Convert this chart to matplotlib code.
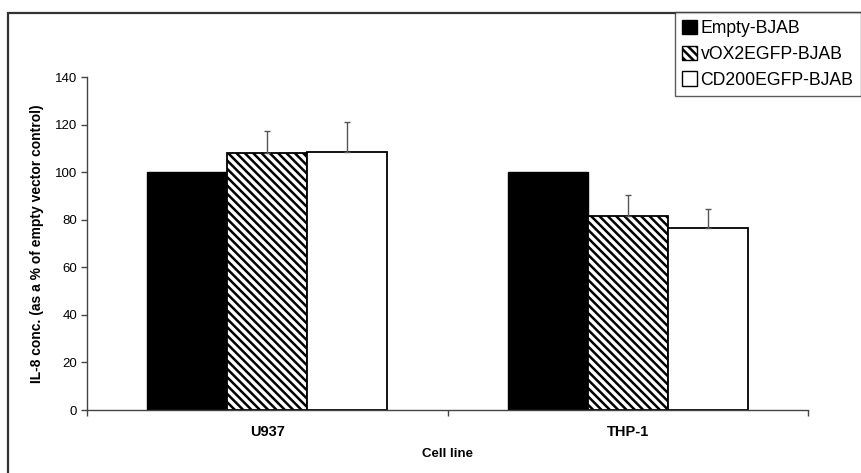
import matplotlib
matplotlib.use("Agg")
import matplotlib.pyplot as plt
from matplotlib.patches import Rectangle, Patch
import numpy as np

plt.rcParams['font.family'] = ['Liberation Sans', 'DejaVu Sans']
plt.rcParams['hatch.linewidth'] = 1.8

categories = ["U937", "THP-1"]
series_names = ["Empty-BJAB", "vOX2EGFP-BJAB", "CD200EGFP-BJAB"]
empty_vals = [100, 100]
vox2_vals = [108, 81.5]
cd200_vals = [108.5, 76.5]
vox2_err = [9.5, 9.0]
cd200_err = [12.5, 8.0]
yticks = [0, 20, 40, 60, 80, 100, 120, 140]

W, H = 861, 473
fig = plt.figure(figsize=(W / 100, H / 100), dpi=100)
fig.patch.set_facecolor("white")

# outer chart-area frame (cropped on right/bottom)
top = 1 - 12.5 / H
fig.patches.append(Rectangle((8 / W, -0.2), 1.2, top + 0.2, transform=fig.transFigure,
                             fill=False, edgecolor="#333333", linewidth=1.6, zorder=0))

ax = fig.add_axes([87 / W, 1 - 410 / H, (808 - 87) / W, (410 - 77) / H])
x = np.arange(len(categories))
w = 1 / 4.5
hatch = "\\\\\\\\"
ekw = dict(ecolor="#555555", elinewidth=1.0, capsize=2.3, capthick=1.0)
ax.bar(x - w, empty_vals, w, color="black", edgecolor="black", linewidth=1.0, label=series_names[0])
ax.bar(x, vox2_vals, w, color="white", edgecolor="black", linewidth=1.3, hatch=hatch, label=series_names[1])
ax.bar(x + w, cd200_vals, w, color="white", edgecolor="black", linewidth=1.3, label=series_names[2])
ax.errorbar(x, vox2_vals, yerr=[[0, 0], vox2_err], fmt="none", **ekw)
ax.errorbar(x + w, cd200_vals, yerr=[[0, 0], cd200_err], fmt="none", **ekw)

ax.set_xlim(-0.5, len(categories) - 0.5)
ax.set_ylim(0, 140)
ax.set_yticks(yticks)
ax.set_yticklabels([str(v) for v in yticks], fontsize=9.5)
ax.set_xticks(np.arange(len(categories) + 1) - 0.5)
ax.set_xticklabels([])
ax.set_xticks(x, minor=True)
ax.set_xticklabels(categories, minor=True, fontsize=10.5, fontweight="bold")
ax.tick_params(axis="x", which="minor", length=0, pad=11)
ax.tick_params(axis="x", which="major", length=4, width=1, color="#444444", direction="out")
ax.tick_params(axis="y", length=4, width=1, color="#444444", direction="out", pad=3)
for s in ["top", "right"]:
    ax.spines[s].set_visible(False)
for s in ["left", "bottom"]:
    ax.spines[s].set_color("#444444")
    ax.spines[s].set_linewidth(1.0)
ax.set_facecolor("none")

ax.set_xlabel("Cell line", fontsize=9.5, fontweight="bold", labelpad=6)
ax.set_ylabel("IL-8 conc. (as a % of empty vector control)", fontsize=10, fontweight="bold", labelpad=8)

handles = [Patch(facecolor="black", edgecolor="black"),
           Patch(facecolor="white", edgecolor="black", hatch=hatch),
           Patch(facecolor="white", edgecolor="black")]
leg = fig.legend(handles, series_names, loc="upper left",
                 bbox_to_anchor=(675 / W, top), bbox_transform=fig.transFigure,
                 borderaxespad=0, fontsize=12.7, frameon=True, fancybox=False, shadow=False,
                 handlelength=0.85, handleheight=0.85, handletextpad=0.2, labelspacing=0.5,
                 borderpad=0.4)
leg.get_frame().set_edgecolor("#333333")
leg.get_frame().set_linewidth(1.0)

fig.savefig("out.png", dpi=100)
